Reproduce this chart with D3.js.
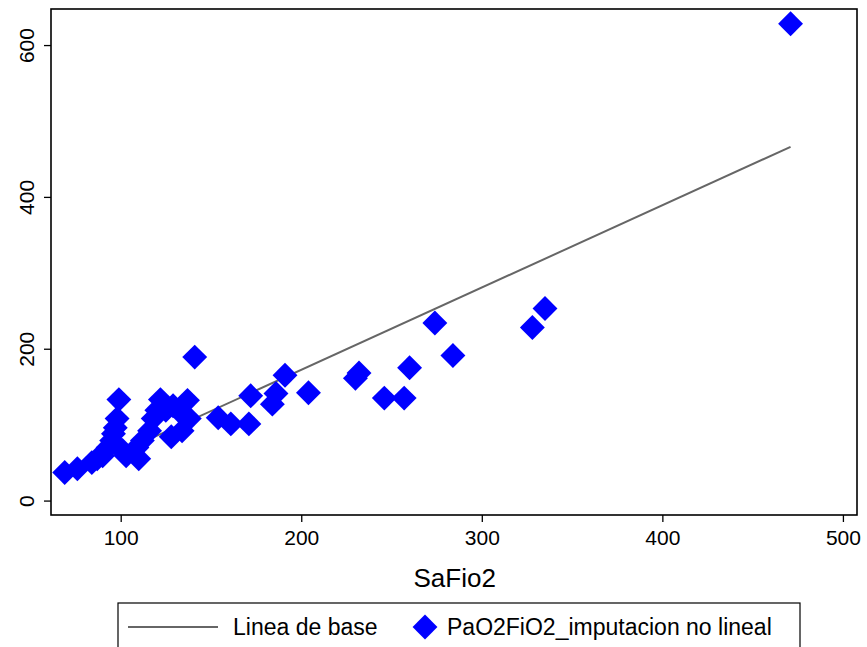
<!DOCTYPE html>
<html>
<head>
<meta charset="utf-8">
<script src="https://cdn.jsdelivr.net/npm/d3@7"></script>
<style>
  body { margin: 0; background: #fff; }
  text { font-family: 'Liberation Sans', Arial, sans-serif; fill: #000; }
</style>
</head>
<body>
<div id="chart"></div>
<script>
// SaFio2 (x) vs PaO2FiO2 imputed (y)
const safio2 = [69, 76, 84, 87, 90, 93, 95, 96, 97, 98, 99, 101, 103, 109, 110, 112, 116, 118, 120, 122,
  125, 128, 129, 134, 134, 138, 137, 141, 154, 161, 171, 172, 184, 186, 191, 204, 230, 232, 246, 257,
  260, 274, 284, 328, 335, 471];
const pao2fio2 = [37, 42, 50, 55, 59, 70, 79, 88, 96, 108, 133, 66, 59, 70, 55, 79, 92, 108, 119, 133,
  119, 84, 125, 92, 114, 108, 132, 189, 109, 101, 101, 138, 127, 141, 165, 142, 161, 168, 135, 135,
  175, 234, 191, 228, 253, 628];
// baseline line endpoints
const baseX = [68, 471];
const baseY = [29, 466];

const xTicks = [100, 200, 300, 400, 500];
const yTicks = [0, 200, 400, 600];

const W = 867, H = 647;
const margin = { top: 9, right: 10, bottom: 132, left: 51 };
const width = W - margin.left - margin.right;
const height = H - margin.top - margin.bottom;

const svg = d3.select('#chart')
  .append('svg')
  .attr('width', W)
  .attr('height', H);

const g = svg.append('g')
  .attr('transform', `translate(${margin.left}, ${margin.top})`);

const x = d3.scaleLinear().domain([61.4, 507.8]).range([0, width]);
const y = d3.scaleLinear().domain([-19, 647.5]).range([height, 0]);

// x axis
const xAxis = g.append('g')
  .attr('transform', `translate(0, ${height})`)
  .call(d3.axisBottom(x).tickValues(xTicks).tickSize(7).tickPadding(8).tickFormat(d3.format('d')));
xAxis.select('.domain').remove();
xAxis.selectAll('line').attr('stroke', '#000').attr('stroke-width', 1.3);
xAxis.selectAll('text').attr('font-size', '21px').attr('font-family', "'Liberation Sans', Arial, sans-serif");

// y axis
const yAxis = g.append('g')
  .call(d3.axisLeft(y).tickValues(yTicks).tickSize(7).tickFormat(d3.format('d')));
yAxis.select('.domain').remove();
yAxis.selectAll('line').attr('stroke', '#000').attr('stroke-width', 1.3);
yAxis.selectAll('text')
  .attr('font-size', '21px')
  .attr('font-family', "'Liberation Sans', Arial, sans-serif")
  .attr('text-anchor', 'middle')
  .attr('x', 0)
  .attr('dy', 0)
  .attr('transform', 'translate(-17, 0) rotate(-90)');

// baseline
g.append('line')
  .attr('x1', x(baseX[0]))
  .attr('y1', y(baseY[0]))
  .attr('x2', x(baseX[1]))
  .attr('y2', y(baseY[1]))
  .attr('stroke', '#666')
  .attr('stroke-width', 2);

// diamonds
const diamond = d3.symbol().type(d3.symbolSquare).size(310);
g.selectAll('.pt')
  .data(safio2.map((d, i) => ({ sx: d, py: pao2fio2[i] })))
  .enter()
  .append('path')
  .attr('class', 'pt')
  .attr('d', diamond)
  .attr('transform', d => `translate(${x(d.sx)}, ${y(d.py)}) rotate(45)`)
  .attr('fill', '#0000ff');

// frame
g.append('rect')
  .attr('width', width)
  .attr('height', height)
  .attr('fill', 'none')
  .attr('stroke', '#000')
  .attr('stroke-width', 1.6);

// axis title
svg.append('text')
  .attr('x', margin.left + x(285))
  .attr('y', 587)
  .attr('text-anchor', 'middle')
  .attr('font-size', '26px')
  .text('SaFio2');

// legend
const leg = svg.append('g');
leg.append('rect')
  .attr('x', 118)
  .attr('y', 603)
  .attr('width', 682)
  .attr('height', 50)
  .attr('fill', '#fff')
  .attr('stroke', '#000')
  .attr('stroke-width', 1.2);
leg.append('line')
  .attr('x1', 128).attr('x2', 218)
  .attr('y1', 627).attr('y2', 627)
  .attr('stroke', '#666')
  .attr('stroke-width', 2);
leg.append('text')
  .attr('x', 233).attr('y', 635)
  .attr('font-size', '23px')
  .text('Linea de base');
leg.append('path')
  .attr('d', diamond)
  .attr('transform', 'translate(425, 627) rotate(45)')
  .attr('fill', '#0000ff');
leg.append('text')
  .attr('x', 447).attr('y', 635)
  .attr('font-size', '23px')
  .text('PaO2FiO2_imputacion no lineal');
</script>
</body>
</html>
